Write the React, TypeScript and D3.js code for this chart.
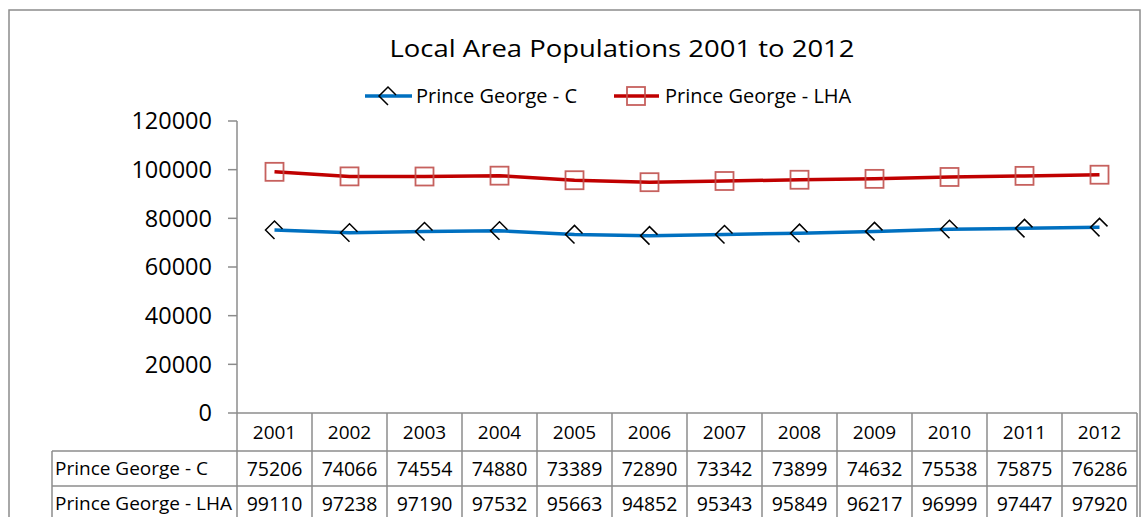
import * as React from 'react';
import * as d3 from 'd3';

const years = ['2001', '2002', '2003', '2004', '2005', '2006', '2007', '2008', '2009', '2010', '2011', '2012'];
const cityValues = [75206, 74066, 74554, 74880, 73389, 72890, 73342, 73899, 74632, 75538, 75875, 76286];
const lhaValues = [99110, 97238, 97190, 97532, 95663, 94852, 95343, 95849, 96217, 96999, 97447, 97920];
const yTicks = [0, 20000, 40000, 60000, 80000, 100000, 120000];
const seriesNames = ['Prince George - C', 'Prince George - LHA'];

const W = 1142;
const H = 517;
const FONT = '"Open Sans", Calibri, sans-serif';
const GRID = '#8c8c8c';

const x = d3.scaleBand<string>().domain(years).range([237, 1137]);
const y = d3.scaleLinear().domain([0, 120000]).range([413, 121]);

const line = d3
  .line<number>()
  .x((_, i) => (x(years[i]) as number) + x.bandwidth() / 2)
  .y((d) => y(d));

// Excel draws the diamond only partly, so it is an open polyline here
const diamond = (cx: number, cy: number) =>
  `M${cx},${cy + 9}L${cx - 9},${cy}L${cx},${cy - 9}L${cx + 8},${cy - 1}`;

const App: React.FC = () => {
  const rowTops = [413, 451, 486, 521];
  const labelLeft = 52;

  return (
    <svg
      width={W}
      height={H}
      style={{ position: 'absolute', left: 0, top: 0, background: '#fff' }}
      fontFamily={FONT}
    >
      {/* Chart frame */}
      <rect x={9} y={10} width={1131} height={530} fill="none" stroke={GRID} strokeWidth={1.5} />

      {/* Title */}
      <text
        x={622}
        y={57}
        textAnchor="middle"
        fontSize={24}
        textLength={465}
        lengthAdjust="spacingAndGlyphs"
        fill="#000"
      >
        Local Area Populations 2001 to 2012
      </text>

      {/* Legend */}
      <g>
        <line x1={365} x2={412} y1={96} y2={96} stroke="#0070C0" strokeWidth={3.5} />
        <path d={diamond(388, 96)} fill="none" stroke="#000" strokeWidth={1.5} />
        <text x={416} y={103} fontSize={20} fill="#000">
          {seriesNames[0]}
        </text>
        <line x1={614} x2={659} y1={96} y2={96} stroke="#C00000" strokeWidth={3.5} />
        <rect x={627} y={87} width={18} height={18} fill="none" stroke="#C0504D" strokeOpacity={0.9} strokeWidth={1.8} />
        <text x={665} y={103} fontSize={20} fill="#000">
          {seriesNames[1]}
        </text>
      </g>

      {/* Y axis */}
      <line x1={237} x2={237} y1={y(120000)} y2={y(0)} stroke={GRID} strokeWidth={1.5} />
      {yTicks.map((t) => (
        <g key={t}>
          <line x1={228} x2={237} y1={y(t)} y2={y(t)} stroke={GRID} strokeWidth={1.5} />
          <text x={212} y={y(t)} dy="0.36em" textAnchor="end" fontSize={23.5} fill="#000">
            {t}
          </text>
        </g>
      ))}

      {/* Lines */}
      <path d={line(lhaValues) || ''} fill="none" stroke="#C00000" strokeWidth={3.5} />
      <path d={line(cityValues) || ''} fill="none" stroke="#0070C0" strokeWidth={3.5} />
      {lhaValues.map((v, i) => {
        const cx = (x(years[i]) as number) + x.bandwidth() / 2;
        return (
          <rect
            key={'s' + i}
            x={cx - 9}
            y={y(v) - 9}
            width={18}
            height={18}
            fill="none"
            stroke="#C0504D"
            strokeOpacity={0.9}
            strokeWidth={1.8}
          />
        );
      })}
      {cityValues.map((v, i) => {
        const cx = (x(years[i]) as number) + x.bandwidth() / 2;
        return <path key={'d' + i} d={diamond(cx, y(v))} fill="none" stroke="#000" strokeWidth={1.5} />;
      })}

      {/* Data table */}
      <g stroke={GRID} strokeWidth={1.5}>
        <line x1={237} x2={1137} y1={rowTops[0]} y2={rowTops[0]} />
        <line x1={labelLeft} x2={1137} y1={rowTops[1]} y2={rowTops[1]} />
        <line x1={labelLeft} x2={1137} y1={rowTops[2]} y2={rowTops[2]} />
        <line x1={labelLeft} x2={labelLeft} y1={rowTops[1]} y2={rowTops[3]} />
        {years.map((yr) => (
          <line key={'v' + yr} x1={x(yr)} x2={x(yr)} y1={rowTops[0]} y2={rowTops[3]} />
        ))}
        <line x1={1137} x2={1137} y1={rowTops[0]} y2={rowTops[3]} />
      </g>
      {years.map((yr) => (
        <text
          key={'h' + yr}
          x={(x(yr) as number) + x.bandwidth() / 2}
          y={(rowTops[0] + rowTops[1]) / 2}
          dy="0.36em"
          textAnchor="middle"
          fontSize={19}
          fill="#000"
        >
          {yr}
        </text>
      ))}
      {[cityValues, lhaValues].map((vals, r) => (
        <g key={'r' + r}>
          <text x={55} y={(rowTops[r + 1] + rowTops[r + 2]) / 2} dy="0.36em" fontSize={19} fill="#000">
            {seriesNames[r]}
          </text>
          {vals.map((v, i) => (
            <text
              key={i}
              x={(x(years[i]) as number) + x.bandwidth() / 2}
              y={(rowTops[r + 1] + rowTops[r + 2]) / 2}
              dy="0.36em"
              textAnchor="middle"
              fontSize={19.5}
              fill="#000"
            >
              {v}
            </text>
          ))}
        </g>
      ))}
    </svg>
  );
};

export default App;
